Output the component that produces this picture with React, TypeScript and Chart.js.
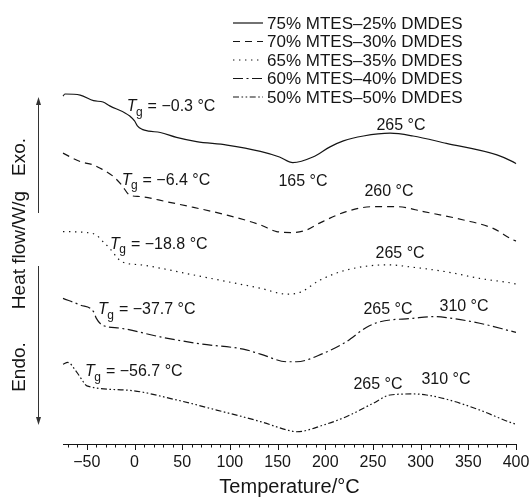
import React, { useEffect, useRef } from 'react';
import { Chart, registerables } from 'chart.js';

Chart.register(...registerables);

const FONT = '"Liberation Sans", Arial, Helvetica, sans-serif';
const INK = '#151515';

// ---- data: temperature (°C) and heat flow (arbitrary, offset) ----
const seriesNames = [
  '75% MTES–25% DMDES',
  '70% MTES–30% DMDES',
  '65% MTES–35% DMDES',
  '60% MTES–40% DMDES',
  '50% MTES–50% DMDES',
];

const temps75 = [-75, -73, -57, -43, -33, -26, -10, -5, 0, 3, 8, 15, 27, 44, 65, 97, 132, 152, 166, 187, 205, 219, 240, 268, 292, 327, 380, 397, 400];
const heat75 = [99.4, 100.0, 99.7, 98.1, 97.7, 96.6, 94.6, 93.7, 92.3, 90.9, 89.9, 89.4, 89.0, 87.6, 86.4, 85.4, 83.6, 82.0, 80.4, 82.0, 84.9, 86.6, 88.0, 88.8, 88.0, 85.9, 82.6, 80.6, 80.1];

const temps70 = [-75, -57, -43, -36, -22, -13.5, -5, 6, 34, 62, 97, 132, 149, 166, 180, 194, 222, 250, 275, 303, 345, 376, 397, 400];
const heat70 = [83.1, 80.7, 79.7, 78.8, 76.4, 74.0, 71.1, 70.7, 69.2, 67.6, 65.4, 62.6, 60.7, 60.4, 61.1, 63.1, 66.4, 67.8, 67.8, 66.4, 64.0, 61.6, 58.3, 58.0];

const temps65 = [-75, -50, -40, -33, -26, -19, -13.5, 9, 62, 97, 132, 160, 174, 195, 222, 265, 292, 327, 362, 397, 400];
const heat65 = [60.7, 60.4, 59.7, 57.8, 55.9, 53.5, 52.1, 51.1, 48.3, 46.4, 44.5, 42.8, 43.4, 46.9, 49.7, 51.2, 50.5, 49.2, 47.3, 45.9, 45.7];

const temps60 = [-75, -57, -43, -40, -34, -15, 27, 69, 114, 132, 160, 170, 198, 222, 243, 257, 292, 313, 327, 362, 397, 400];
const heat60 = [41.6, 39.7, 37.8, 35.9, 34.0, 33.1, 30.6, 28.6, 27.1, 25.7, 23.5, 23.5, 25.9, 29.2, 33.3, 34.9, 35.9, 36.4, 36.1, 34.5, 32.1, 31.9];

const temps50 = [-75, -70, -61, -55, -50, -8, 44, 86, 132, 160, 170, 198, 222, 250, 268, 292, 306, 327, 362, 397, 400];
const heat50 = [22.8, 23.3, 20.7, 18.3, 16.6, 15.4, 12.6, 9.7, 6.4, 4.0, 3.5, 5.4, 7.8, 11.6, 14.0, 14.3, 14.0, 12.8, 9.7, 5.9, 5.7];

const seriesTemps = [temps75, temps70, temps65, temps60, temps50];
const seriesHeat = [heat75, heat70, heat65, heat60, heat50];

// glass transition labels (anchored in data units)
const tgValues = ['−0.3', '−6.4', '−18.8', '−37.7', '−56.7'];
const tgAtT = [-8.2, -13.5, -25.7, -38.3, -51.9];
const tgAtHeat = [96.4, 75.4, 57.1, 38.3, 20.6];

// peak labels (anchored in data units)
const peakTexts = ['165 °C', '265 °C', '260 °C', '265 °C', '265 °C', '310 °C', '265 °C', '310 °C'];
const peakAtT = [176.6, 279.4, 266.8, 278.4, 265.8, 345.5, 255.3, 326.6];
const peakAtHeat = [75.1, 90.9, 72.1, 54.3, 38.3, 39.2, 16.9, 18.3];

const xMin = -75;
const xMax = 400;
const yMin = 0;
const yMax = 104;

const dashes: number[][] = [[], [7, 5], [1.4, 4.6], [10, 3.5, 2, 3.5], [6, 2.5, 1.6, 2.5, 1.6, 2.5]];

function drawTg(ctx: CanvasRenderingContext2D, x: number, y: number, val: string) {
  ctx.textAlign = 'left';
  ctx.textBaseline = 'middle';
  ctx.font = `italic 16px ${FONT}`;
  ctx.fillText('T', x, y);
  let w = ctx.measureText('T').width;
  ctx.font = `12px ${FONT}`;
  ctx.fillText('g', x + w - 0.5, y + 6);
  w += ctx.measureText('g').width;
  ctx.font = `16px ${FONT}`;
  ctx.fillText(` = ${val} °C`, x + w, y);
}

function arrow(ctx: CanvasRenderingContext2D, x: number, y0: number, y1: number) {
  const dir = y1 < y0 ? -1 : 1;
  ctx.beginPath();
  ctx.moveTo(x, y0);
  ctx.lineTo(x, y1 - dir * 6);
  ctx.stroke();
  ctx.beginPath();
  ctx.moveTo(x, y1);
  ctx.lineTo(x - 2.5, y1 - dir * 8);
  ctx.lineTo(x + 2.5, y1 - dir * 8);
  ctx.closePath();
  ctx.fill();
}

const decorPlugin = {
  id: 'decor',
  afterDraw(chart: any) {
    const { ctx, chartArea, scales } = chart;
    const xs = scales.x;
    const ys = scales.y;
    ctx.save();
    ctx.strokeStyle = INK;
    ctx.fillStyle = INK;
    ctx.lineWidth = 1;

    // x ticks (major every 50, minor every 10)
    for (let v = -70; v <= xMax; v += 10) {
      const px = Math.round(xs.getPixelForValue(v)) + 0.5;
      const len = v % 50 === 0 ? 6 : 3.5;
      ctx.beginPath();
      ctx.moveTo(px, chartArea.bottom);
      ctx.lineTo(px, chartArea.bottom + len);
      ctx.stroke();
    }

    // legend
    const lx0 = 233;
    const lx1 = 263;
    for (let i = 0; i < seriesNames.length; i++) {
      const y = 23 + i * 18.5;
      ctx.setLineDash(dashes[i]);
      ctx.lineWidth = 1.2;
      ctx.beginPath();
      ctx.moveTo(lx0, y);
      ctx.lineTo(lx1, y);
      ctx.stroke();
      ctx.setLineDash([]);
      ctx.font = `17px ${FONT}`;
      ctx.textAlign = 'left';
      ctx.textBaseline = 'middle';
      ctx.fillText(seriesNames[i], 267, y + 1);
    }

    // Tg labels
    for (let i = 0; i < tgValues.length; i++) {
      drawTg(ctx, xs.getPixelForValue(tgAtT[i]), ys.getPixelForValue(tgAtHeat[i]), tgValues[i]);
    }

    // peak labels
    ctx.font = `16px ${FONT}`;
    ctx.textAlign = 'center';
    ctx.textBaseline = 'middle';
    for (let i = 0; i < peakTexts.length; i++) {
      ctx.fillText(peakTexts[i], xs.getPixelForValue(peakAtT[i]), ys.getPixelForValue(peakAtHeat[i]));
    }

    // y axis title and Exo/Endo arrows
    ctx.lineWidth = 1;
    ctx.strokeStyle = '#333';
    ctx.fillStyle = '#333';
    arrow(ctx, 38.5, 213, 97);
    arrow(ctx, 38.5, 266, 425);
    ctx.fillStyle = INK;
    ctx.font = `19px ${FONT}`;
    ctx.textAlign = 'center';
    ctx.textBaseline = 'middle';
    const rot = (text: string, x: number, y: number) => {
      ctx.save();
      ctx.translate(x, y);
      ctx.rotate(-Math.PI / 2);
      ctx.fillText(text, 0, 0);
      ctx.restore();
    };
    rot('Exo.', 20, 157);
    rot('Heat flow/W/g', 20, 250);
    rot('Endo.', 20, 367);
    ctx.restore();
  },
};

export default function App() {
  const ref = useRef<HTMLCanvasElement | null>(null);
  useEffect(() => {
    if (!ref.current) return;
    const chart = new Chart(ref.current, {
      type: 'line',
      data: {
        datasets: seriesNames.map((name, i) => ({
          label: name,
          data: seriesTemps[i].map((t, j) => ({ x: t, y: seriesHeat[i][j] })),
          borderColor: INK,
          borderWidth: 1.2,
          borderDash: dashes[i],
          pointRadius: 0,
          cubicInterpolationMode: 'monotone' as const,
          fill: false,
          clip: false as any,
        })),
      },
      options: {
        responsive: false,
        animation: false,
        events: [],
        layout: { padding: { left: 63, right: 15, top: 80, bottom: 0 } },
        plugins: { legend: { display: false }, tooltip: { enabled: false }, title: { display: false } },
        scales: {
          x: {
            type: 'linear',
            position: 'bottom',
            min: xMin,
            max: xMax,
            grid: { display: false, drawTicks: false },
            border: { display: true, color: INK, width: 1 },
            afterBuildTicks: (scale: any) => {
              const t = [];
              for (let v = -50; v <= xMax; v += 50) t.push({ value: v });
              scale.ticks = t;
            },
            afterFit: (scale: any) => {
              scale.height = 53;
              scale.paddingLeft = 0;
              scale.paddingRight = 0;
            },
            ticks: {
              autoSkip: false,
              maxRotation: 0,
              padding: 9,
              color: INK,
              font: { family: FONT, size: 16 },
              callback: (v: any) => (v < 0 ? '−' + Math.abs(v) : String(v)),
            },
            title: {
              display: true,
              text: 'Temperature/°C',
              color: INK,
              font: { family: FONT, size: 20, lineHeight: 1 },
              padding: { top: 4, bottom: 0 },
            },
          },
          y: { type: 'linear', display: false, min: yMin, max: yMax },
        },
      },
      plugins: [decorPlugin],
    });
    return () => chart.destroy();
  }, []);
  return (
    <div style={{ position: 'absolute', left: 0, top: 0, width: 531, height: 497, background: '#fff' }}>
      <canvas ref={ref} width={531} height={497} style={{ display: 'block' }} />
    </div>
  );
}
